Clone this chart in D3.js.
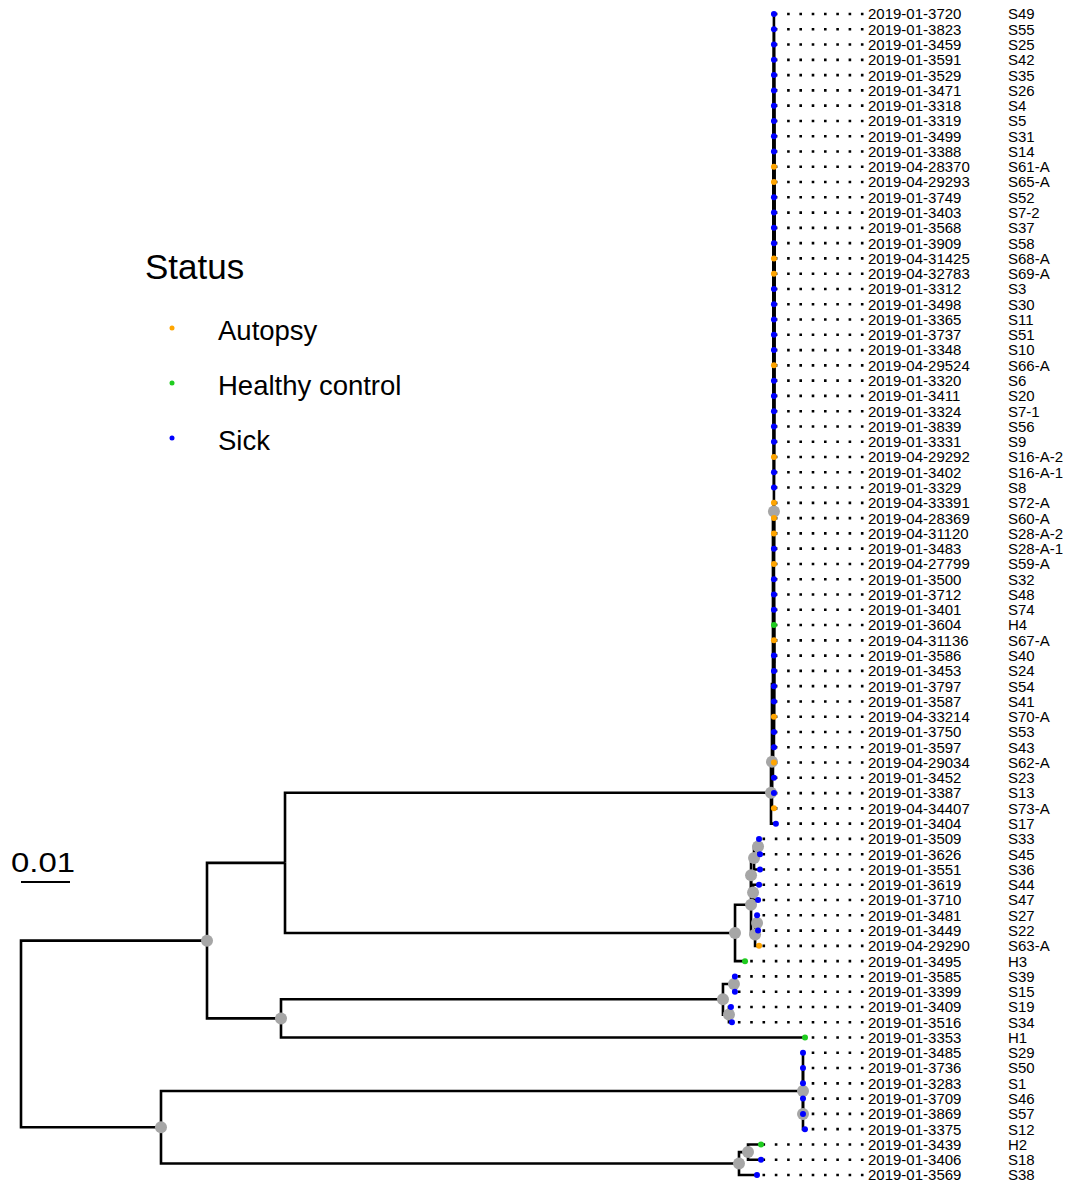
<!DOCTYPE html>
<html>
<head>
<meta charset="utf-8">
<script src="https://cdn.jsdelivr.net/npm/d3@7"></script>
<style>
body{margin:0;background:#fff}
text{font-family:"Liberation Sans",Arial,sans-serif;fill:#000}
</style>
</head>
<body>
<script>
// tree, branch lengths in substitutions per site, '*' marks a supported node
var newick = "(((" +
  "((((" +
  "(S49:0,S55:0,S25:0,S42:0,S35:0,S26:0,S4:0,S5:0,S31:0,S14:0,S61-A:0,S65-A:0,S52:0,S7-2:0,S37:0,S58:0,S68-A:0,S69-A:0,S3:0,S30:0,S11:0,S51:0,S10:0,S66-A:0,S6:0,S20:0,S7-1:0,S56:0,S9:0,S16-A-2:0,S16-A-1:0,S8:0):0," +
  "S72-A:0,S60-A:0,S28-A-2:0,S28-A-1:0,S59-A:0," +
  "(S32:0,S48:0,S74:0,H4:0,S67-A:0,S40:0,S24:0,S54:0,S41:0,S70-A:0,S53:0,S43:0):0)*:0.0002," +
  "S62-A:0.0002,S23:0.0002):0.0002,S13:0.0004,S73-A:0.0004)*:0.0002,S17:0.001)*:0.09918," +
  "(((((S33:0.0002,S45:0.0004)*:0.00082,S36:0.00122)*:0.00061,(S44:0.00122,S47:0.00102)*:0.00041)*:0," +
  "((S27:0,S22:0.0002)*:0.00041,S63-A:0.00082)*:0.00082)*:0.00327,H3:0.00204)*:0.09184):0.01592," +
  "(((S39:0.0002,S15:0.0002)*:0.00224,(S19:0.00041,S34:0.00061)*:0.00122)*:0.0902,H1:0.10694)*:0.0151)*:0.03796," +
  "(((S29:0,S50:0,S1:0):0,(S46:0,S57:0,S12:0.0004)*:0)*:0.13102," +
  "((H2:0.00265,S18:0.00265)*:0.00184,S38:0.00367)*:0.11796)*:0.02857);";

var tipNames = ["S49","S55","S25","S42","S35","S26","S4","S5","S31","S14","S61-A","S65-A","S52","S7-2","S37","S58","S68-A","S69-A","S3","S30","S11","S51","S10","S66-A","S6","S20","S7-1","S56","S9","S16-A-2","S16-A-1","S8","S72-A","S60-A","S28-A-2","S28-A-1","S59-A","S32","S48","S74","H4","S67-A","S40","S24","S54","S41","S70-A","S53","S43","S62-A","S23","S13","S73-A","S17","S33","S45","S36","S44","S47","S27","S22","S63-A","H3","S39","S15","S19","S34","H1","S29","S50","S1","S46","S57","S12","H2","S18","S38"];

var tipIds = ["2019-01-3720","2019-01-3823","2019-01-3459","2019-01-3591","2019-01-3529","2019-01-3471","2019-01-3318","2019-01-3319","2019-01-3499","2019-01-3388","2019-04-28370","2019-04-29293","2019-01-3749","2019-01-3403","2019-01-3568","2019-01-3909","2019-04-31425","2019-04-32783","2019-01-3312","2019-01-3498","2019-01-3365","2019-01-3737","2019-01-3348","2019-04-29524","2019-01-3320","2019-01-3411","2019-01-3324","2019-01-3839","2019-01-3331","2019-04-29292","2019-01-3402","2019-01-3329","2019-04-33391","2019-04-28369","2019-04-31120","2019-01-3483","2019-04-27799","2019-01-3500","2019-01-3712","2019-01-3401","2019-01-3604","2019-04-31136","2019-01-3586","2019-01-3453","2019-01-3797","2019-01-3587","2019-04-33214","2019-01-3750","2019-01-3597","2019-04-29034","2019-01-3452","2019-01-3387","2019-04-34407","2019-01-3404","2019-01-3509","2019-01-3626","2019-01-3551","2019-01-3619","2019-01-3710","2019-01-3481","2019-01-3449","2019-04-29290","2019-01-3495","2019-01-3585","2019-01-3399","2019-01-3409","2019-01-3516","2019-01-3353","2019-01-3485","2019-01-3736","2019-01-3283","2019-01-3709","2019-01-3869","2019-01-3375","2019-01-3439","2019-01-3406","2019-01-3569"];

// S = Sick, A = Autopsy, H = Healthy control
var tipStatus = ["S","S","S","S","S","S","S","S","S","S","A","A","S","S","S","S","A","A","S","S","S","S","S","A","S","S","S","S","S","A","S","S","A","A","A","S","A","S","S","S","H","A","S","S","S","S","A","S","S","A","S","S","A","S","S","S","S","S","S","S","S","A","H","S","S","S","S","H","S","S","S","S","S","S","H","S","S"];

var statusCodes = ["A","H","S"];
var statusNames = ["Autopsy","Healthy control","Sick"];
var statusColors = ["#ffa500","#1fcc1f","#0000ff"];
var scaleValue = 0.01;

function parseNewick(s){
  var ancestors = [], tree = {}, tokens = s.split(/\s*(;|\(|\)|,|:)\s*/);
  for (var i = 0; i < tokens.length; i++) {
    var t = tokens[i], sub;
    switch (t) {
      case '(': sub = {}; tree.children = [sub]; ancestors.push(tree); tree = sub; break;
      case ',': sub = {}; ancestors[ancestors.length-1].children.push(sub); tree = sub; break;
      case ')': tree = ancestors.pop(); break;
      case ':': break;
      default:
        var p = tokens[i-1];
        if (p == ')' || p == '(' || p == ',') tree.name = t;
        else if (p == ':') tree.length = parseFloat(t);
    }
  }
  return tree;
}

var width = 1066, height = 1183;
var svg = d3.select('body').append('svg').attr('width',width).attr('height',height);

var root = d3.hierarchy(parseNewick(newick));
d3.cluster().size([1,1]).separation(function(){return 1;})(root);
root.eachBefore(function(d){ d.len = (d.parent ? d.parent.len : 0) + (d.data.length || 0); });
var leaves = root.leaves();

var x = d3.scaleLinear().domain([0, scaleValue]).range([21, 70]);
var y = d3.scaleLinear().domain(d3.extent(leaves, function(d){ return d.x; })).range([14, 1175]);
var color = d3.scaleOrdinal().domain(statusCodes).range(statusColors);
var tipIndex = {};
tipNames.forEach(function(n,i){ tipIndex[n] = i; });

var labelX = 868, nameX = 1008;

// dotted leaders
svg.append('g').selectAll('line').data(leaves).enter().append('line')
  .attr('x1', labelX - 4.5).attr('x2', function(d){ return x(d.len); })
  .attr('y1', function(d){ return y(d.x); }).attr('y2', function(d){ return y(d.x); })
  .attr('stroke','#000').attr('stroke-width',2.6).attr('stroke-dasharray','2.6 9.7');

// branches
svg.append('g').selectAll('path').data(root.descendants().slice(1)).enter().append('path')
  .attr('d', function(d){
    return 'M' + x(d.parent.len) + ',' + y(d.parent.x) + 'V' + y(d.x) + 'H' + x(d.len);
  })
  .attr('fill','none').attr('stroke','#000').attr('stroke-width',2.6);

// supported nodes
svg.append('g').selectAll('circle').data(root.descendants().filter(function(d){ return d.children && d.data.name === '*'; }))
  .enter().append('circle')
  .attr('cx', function(d){ return x(d.len); }).attr('cy', function(d){ return y(d.x); })
  .attr('r', 6).attr('fill','#a6a6a6');

// tips
svg.append('g').selectAll('circle').data(leaves).enter().append('circle')
  .attr('cx', function(d){ return x(d.len); }).attr('cy', function(d){ return y(d.x); })
  .attr('r', 3).attr('fill', function(d){ return color(tipStatus[tipIndex[d.data.name]]); });

// labels
var lab = svg.append('g').style('font-size','15px');
lab.selectAll('text.id').data(leaves).enter().append('text').attr('class','id')
  .attr('x', labelX).attr('y', function(d){ return y(d.x); }).attr('dy','0.36em')
  .text(function(d){ return tipIds[tipIndex[d.data.name]]; });
lab.selectAll('text.nm').data(leaves).enter().append('text').attr('class','nm')
  .attr('x', nameX).attr('y', function(d){ return y(d.x); }).attr('dy','0.36em')
  .text(function(d){ return d.data.name; });

// scale bar
svg.append('line').attr('x1', x(0)).attr('x2', x(scaleValue)).attr('y1',882).attr('y2',882)
  .attr('stroke','#000').attr('stroke-width',2);
svg.append('text').attr('x',11).attr('y',872).style('font-size','28px')
  .attr('textLength',64).attr('lengthAdjust','spacingAndGlyphs').text(scaleValue);

// legend
var leg = svg.append('g');
leg.append('text').attr('x',145).attr('y',279).style('font-size','35px').text('Status');
var item = leg.selectAll('g.it').data(statusNames).enter().append('g').attr('class','it')
  .attr('transform', function(d,i){ return 'translate(0,' + (328 + i*55) + ')'; });
item.append('circle').attr('cx',172).attr('cy',0).attr('r',2.5)
  .attr('fill', function(d,i){ return statusColors[i]; });
item.append('text').attr('x',218).attr('y',11.5).style('font-size','27.5px').text(function(d){ return d; });
</script>
</body>
</html>
